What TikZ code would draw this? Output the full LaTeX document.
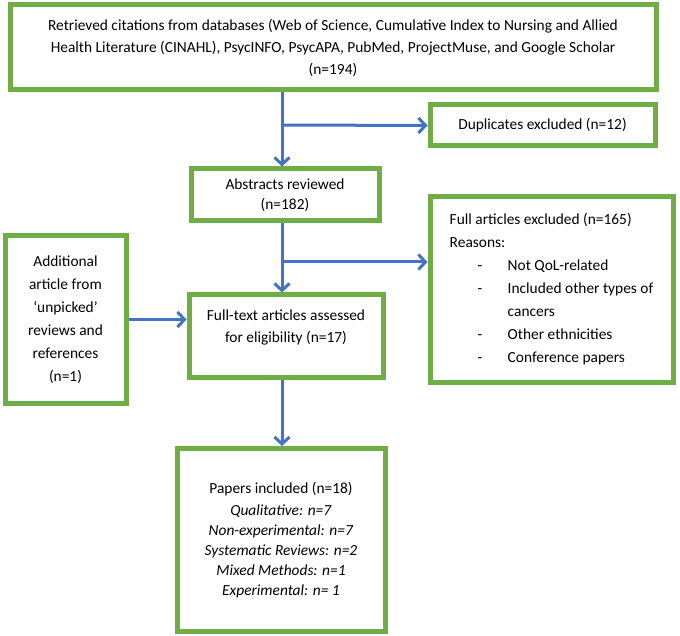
\documentclass[tikz,border=0pt]{standalone}
\usepackage{fontspec}
\setmainfont{Carlito}
\usetikzlibrary{arrows.meta}
\definecolor{boxgreen}{RGB}{112,173,71}
\definecolor{arrowblue}{RGB}{68,114,196}
\newcommand{\exclitem}[1]{\makebox[58pt][l]{\hspace{28pt}-}#1}

\begin{document}
\begin{tikzpicture}
  [x=1pt,y=-1pt,
   box/.style={draw=boxgreen,line width=5pt,inner sep=0pt,align=center,
     font=\fontsize{15.4}{22}\selectfont},
   arr/.style={draw=arrowblue,line width=3pt,-{Straight Barb[length=7pt,width=15pt]}}]
  \useasboundingbox (0,0) rectangle (680,636);

  \node[box,minimum width=646pt,minimum height=85pt] (cit) at (333,47.5)
    {Retrieved citations from databases (Web of Science, Cumulative Index to Nursing and Allied\\
     Health Literature (CINAHL), PsycINFO, PsycAPA, PubMed, ProjectMuse, and Google Scholar\\
     (n=194)};
  \node[box,minimum width=225pt,minimum height=41pt] (dup) at (542.5,125.5)
    {Duplicates excluded (n=12)};
  \node[box,minimum width=188pt,minimum height=52pt,font=\fontsize{15.4}{20}\selectfont] (abs) at (285,195)
    {Abstracts reviewed\\(n=182)};
  \node[box,minimum width=243pt,minimum height=185pt,align=left,font=\fontsize{15.4}{23}\selectfont] (excl) at (551.5,289.5)
    {Full articles excluded (n=165)\\
     Reasons:\\
     \exclitem{Not QoL-related}\\
     \exclitem{Included other types of}\\
     \hspace*{58pt}cancers\\
     \exclitem{Other ethnicities}\\
     \exclitem{Conference papers}};
  \node[box,minimum width=121pt,minimum height=167pt,font=\fontsize{15.4}{23}\selectfont] (add) at (65.5,319.5)
    {Additional\\article from\\‘unpicked’\\reviews and\\references\\(n=1)};
  \node[box,minimum width=194pt,minimum height=82pt,text depth=20pt] (full) at (286,336)
    {Full-text articles assessed\\for eligibility (n=17)};
  \node[box,minimum width=208pt,minimum height=183pt,font=\fontsize{15.4}{20}\selectfont] (pap) at (281,540)
    {Papers included (n=18)\\[2pt]
     \textit{Qualitative: n=7}\\
     \textit{Non-experimental: n=7}\\
     \textit{Systematic Reviews: n=2}\\
     \textit{Mixed Methods: n=1}\\
     \textit{Experimental: n= 1}};

  \coordinate (j1) at (282,125);
  \coordinate (j2) at (282,262);
  \foreach \from/\to in {cit.south -| j1/abs.north -| j1, j1/dup.west,
                         abs.south -| j2/full.north -| j2, j2/excl.west |- j2,
                         add.east/full.west |- add.east, full.south -| j2/pap.north -| j2}
    \draw[arr] (\from) -- (\to);
\end{tikzpicture}
\end{document}
